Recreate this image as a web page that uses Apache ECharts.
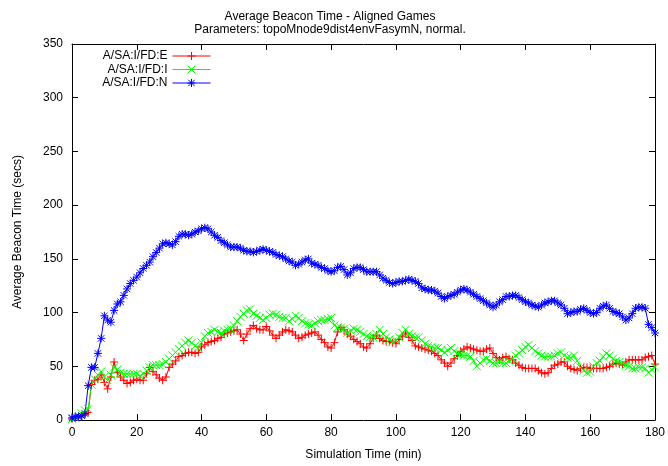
<!DOCTYPE html>
<html>
<head>
<meta charset="utf-8">
<script src="https://cdn.jsdelivr.net/npm/echarts@6/dist/echarts.min.js"></script>
<style>
  html, body { margin: 0; padding: 0; background: #ffffff; }
  #chart { width: 668px; height: 466px; }
</style>
</head>
<body>
<div id="chart"></div>
<script>
// Average beacon time (secs), one sample per simulated minute, 0..180 min
const seriesNames = ['A/SA:I/FD:E', 'A/SA:I/FD:I', 'A/SA:I/FD:N'];
const seriesColors = ['#ff0000', '#00ff00', '#0000ff'];

const valuesE = [
  1, 2, 3, 3, 5, 7, 33, 37, 38, 42, 35, 29, 40, 54, 44, 40, 37, 34, 35, 37,
  38, 37, 37, 43, 49, 45, 42, 39, 37, 40, 49, 52, 55, 59, 60, 62, 63, 63, 62, 63,
  68, 70, 72, 73, 74, 76, 77, 80, 81, 82, 83, 84, 80, 74, 80, 85, 88, 85, 84, 84,
  87, 83, 79, 76, 79, 82, 84, 83, 82, 79, 76, 77, 79, 80, 81, 82, 79, 75, 72, 68,
  67, 72, 82, 86, 84, 80, 78, 75, 73, 71, 68, 67, 71, 76, 79, 76, 74, 73, 73, 72,
  71, 75, 78, 81, 77, 74, 69, 68, 67, 66, 65, 64, 62, 60, 56, 53, 50, 53, 57, 60,
  64, 66, 68, 67, 66, 65, 64, 64, 66, 67, 62, 58, 56, 58, 59, 57, 56, 53, 51, 49,
  48, 48, 48, 48, 46, 44, 43, 44, 48, 51, 52, 54, 54, 50, 48, 47, 46, 48, 49, 49,
  48, 48, 48, 48, 48, 49, 50, 52, 53, 52, 51, 54, 56, 56, 56, 56, 56, 58, 59, 60,
  52
];

const valuesI = [
  1, 2, 4, 6, 9, 10, 33, 38, 42, 45, 40, 37, 42, 49, 47, 44, 43, 43, 43, 43,
  43, 41, 43, 46, 49, 51, 51, 51, 52, 54, 57, 60, 63, 66, 69, 72, 74, 72, 69, 67,
  72, 78, 81, 82, 84, 82, 81, 83, 84, 85, 88, 92, 96, 99, 102, 103, 99, 97, 95, 93,
  95, 98, 99, 98, 96, 95, 95, 92, 94, 97, 95, 92, 90, 89, 88, 90, 92, 93, 93, 94,
  95, 88, 86, 86, 85, 81, 83, 85, 84, 82, 80, 78, 77, 77, 80, 84, 80, 77, 75, 73,
  74, 77, 81, 84, 80, 78, 77, 77, 74, 71, 69, 68, 67, 67, 65, 63, 65, 67, 64, 62,
  61, 60, 60, 59, 55, 50, 53, 56, 57, 55, 53, 53, 54, 53, 53, 55, 57, 60, 62, 65,
  68, 70, 67, 64, 62, 60, 59, 59, 59, 60, 62, 63, 60, 58, 58, 60, 55, 49, 46, 44,
  45, 50, 53, 55, 59, 62, 60, 57, 55, 54, 53, 51, 50, 48, 48, 49, 49, 48, 44, 47,
  49
];

const valuesN = [
  2, 3, 3, 4, 6, 32, 49, 49, 62, 76, 97, 93, 91, 102, 108, 110, 116, 122, 127, 130,
  133, 137, 141, 144, 147, 152, 156, 160, 164, 165, 164, 163, 166, 171, 173, 173, 172, 173, 175, 176,
  178, 179, 178, 175, 172, 170, 167, 165, 163, 161, 161, 161, 160, 158, 157, 157, 156, 157, 158, 159,
  158, 157, 156, 154, 153, 152, 150, 148, 147, 144, 145, 147, 149, 150, 146, 145, 144, 142, 141, 139,
  138, 139, 142, 143, 140, 135, 137, 141, 142, 142, 140, 138, 138, 138, 138, 135, 132, 130, 128, 127,
  128, 129, 129, 130, 131, 130, 129, 127, 123, 122, 121, 121, 120, 118, 115, 113, 115, 116, 117, 119,
  121, 122, 121, 119, 117, 115, 113, 111, 109, 107, 105, 107, 110, 112, 115, 115, 116, 116, 114, 112,
  110, 109, 107, 106, 105, 107, 109, 110, 111, 111, 109, 107, 104, 99, 100, 101, 101, 103, 104, 102,
  100, 99, 100, 104, 106, 107, 104, 101, 100, 99, 96, 93, 95, 99, 104, 105, 105, 104, 89, 86,
  81
];

const xTickStep = 20;
const yTickStep = 50;

// gnuplot-style point glyphs: plus, cross, star
const glyphs = [
  'path://M0,5L10,5M5,0L5,10',
  'path://M0,0L10,10M0,10L10,0',
  'path://M0,5L10,5M5,0L5,10M1,1L9,9M1,9L9,1'
];

const allValues = [valuesE, valuesI, valuesN];
const fontFamily = '"Liberation Sans", Arial, Helvetica, sans-serif';

function pairs(values) {
  return values.map((v, minute) => [minute, v]);
}

const chart = echarts.init(document.getElementById('chart'), null, { renderer: 'canvas' });

const tickInside = { show: true, inside: true, length: 6, lineStyle: { color: '#000', width: 1 } };
const frameLine = { show: true, onZero: false, lineStyle: { color: '#000', width: 1 } };
const tickText = { color: '#000', fontSize: 12, fontFamily: fontFamily };

const option = {
  animation: false,
  backgroundColor: '#ffffff',
  title: {
    text: 'Average Beacon Time - Aligned Games\nParameters: topoMnode9dist4envFasymN, normal.',
    left: 325,
    top: 5,
    textAlign: 'center',
    textStyle: { fontSize: 12, fontWeight: 'normal', color: '#000', lineHeight: 13, fontFamily: fontFamily }
  },
  legend: seriesNames.map((name, i) => ({
    data: [name],
    orient: 'vertical',
    right: 457,
    top: 50 + i * 13.5,
    align: 'right',
    padding: 0,
    itemWidth: 38,
    itemHeight: 10,
    itemStyle: { color: 'rgba(0,0,0,0)', borderColor: seriesColors[i], borderWidth: 1 },
    lineStyle: { color: seriesColors[i], width: 1 },
    textStyle: { color: '#000', fontSize: 12, fontFamily: fontFamily }
  })),
  grid: { left: 72, right: 11, top: 44, bottom: 46, containLabel: false },
  xAxis: [
    {
      type: 'value', min: 0, max: 180, interval: xTickStep, position: 'bottom',
      name: 'Simulation Time (min)', nameLocation: 'middle', nameGap: 29,
      nameTextStyle: tickText,
      axisLine: frameLine, axisTick: tickInside,
      axisLabel: Object.assign({ margin: 7 }, tickText),
      splitLine: { show: false }
    },
    {
      type: 'value', min: 0, max: 180, interval: xTickStep, position: 'top',
      axisLine: frameLine, axisTick: tickInside,
      axisLabel: { show: false }, splitLine: { show: false }
    }
  ],
  yAxis: [
    {
      type: 'value', min: 0, max: 350, interval: yTickStep, position: 'left',
      name: 'Average Beacon Time (secs)', nameLocation: 'middle', nameGap: 48,
      nameTextStyle: tickText,
      axisLine: frameLine, axisTick: tickInside,
      axisLabel: Object.assign({ margin: 9 }, tickText),
      splitLine: { show: false }
    },
    {
      type: 'value', min: 0, max: 350, interval: yTickStep, position: 'right',
      axisLine: frameLine, axisTick: tickInside,
      axisLabel: { show: false }, splitLine: { show: false }
    }
  ],
  series: seriesNames.map((name, i) => ({
    name: name,
    type: 'line',
    data: pairs(allValues[i]),
    color: seriesColors[i],
    symbol: glyphs[i],
    symbolSize: 8,
    showSymbol: true,
    showAllSymbol: true,
    lineStyle: { color: seriesColors[i], width: 1 },
    itemStyle: { color: 'rgba(0,0,0,0)', borderColor: seriesColors[i], borderWidth: 1 },
    emphasis: { disabled: true }
  }))
};

chart.setOption(option);
</script>
</body>
</html>
